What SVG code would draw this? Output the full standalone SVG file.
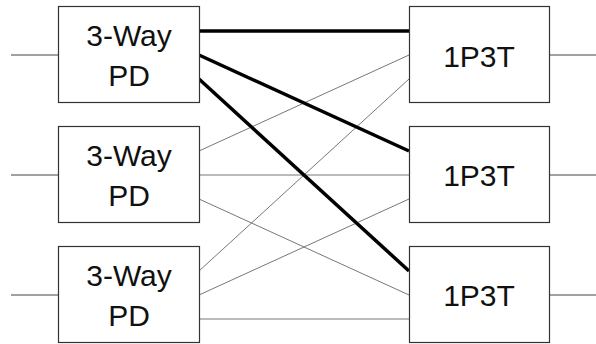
<svg xmlns="http://www.w3.org/2000/svg" width="596" height="344" viewBox="0 0 596 344">
  <style>
    .box { fill: #ffffff; stroke: #333333; stroke-width: 1.2; }
    .lbl { font-family: "Liberation Sans", Arial, sans-serif; font-size: 30px; fill: #111111; text-anchor: middle; }
    .io { stroke: #444444; stroke-width: 1; fill: none; }
    .thin { stroke: #777777; stroke-width: 1; fill: none; }
    .thick { stroke: #000000; stroke-width: 3.5; fill: none; }
  </style>
  <rect width="596" height="344" fill="#ffffff"/>

  <!-- connectors -->
  <g id="connectors">
    <!-- external inputs / outputs -->
    <line class="io" x1="11" y1="55" x2="59" y2="55"/>
    <line class="io" x1="11" y1="175" x2="59" y2="175"/>
    <line class="io" x1="11" y1="295" x2="59" y2="295"/>
    <line class="io" x1="549" y1="55" x2="596" y2="55"/>
    <line class="io" x1="549" y1="175" x2="596" y2="175"/>
    <line class="io" x1="549" y1="295" x2="596" y2="295"/>
    <!-- divider 2 and 3 to switches -->
    <line class="thin" x1="199" y1="151" x2="409" y2="55"/>
    <line class="thin" x1="199" y1="175" x2="409" y2="175"/>
    <line class="thin" x1="199" y1="199" x2="409" y2="295"/>
    <line class="thin" x1="199" y1="271" x2="409" y2="79"/>
    <line class="thin" x1="199" y1="295" x2="409" y2="199"/>
    <line class="thin" x1="199" y1="319" x2="409" y2="319"/>
    <!-- divider 1 to switches -->
    <line class="thick" x1="199" y1="31" x2="409" y2="31" stroke-width="4"/>
    <line class="thick" x1="199" y1="55" x2="409" y2="151"/>
    <line class="thick" x1="199" y1="79" x2="409" y2="271"/>
  </g>

  <g id="pd1">
    <rect class="box" x="58.5" y="6.5" width="141" height="96"/>
    <text class="lbl" x="129" y="46">3-Way</text>
    <text class="lbl" x="129" y="86">PD</text>
  </g>
  <g id="pd2">
    <rect class="box" x="58.5" y="126.5" width="141" height="96"/>
    <text class="lbl" x="129" y="166">3-Way</text>
    <text class="lbl" x="129" y="206">PD</text>
  </g>
  <g id="pd3">
    <rect class="box" x="58.5" y="246.5" width="141" height="96"/>
    <text class="lbl" x="129" y="286">3-Way</text>
    <text class="lbl" x="129" y="326">PD</text>
  </g>

  <g id="sw1">
    <rect class="box" x="409.5" y="6.5" width="140" height="96"/>
    <text class="lbl" x="479" y="66.5">1P3T</text>
  </g>
  <g id="sw2">
    <rect class="box" x="409.5" y="126.5" width="140" height="96"/>
    <text class="lbl" x="479" y="186">1P3T</text>
  </g>
  <g id="sw3">
    <rect class="box" x="409.5" y="246.5" width="140" height="96"/>
    <text class="lbl" x="479" y="306">1P3T</text>
  </g>
</svg>
